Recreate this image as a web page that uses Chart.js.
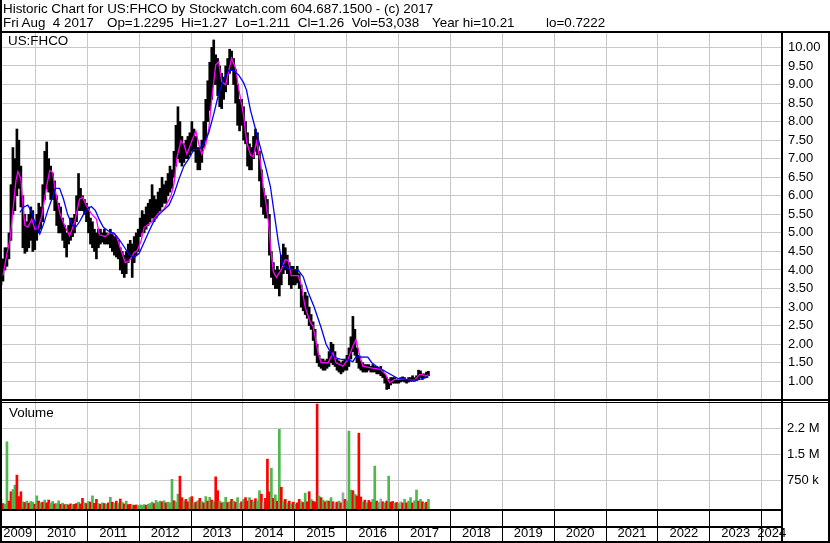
<!DOCTYPE html>
<html><head><meta charset="utf-8">
<script src="https://cdn.jsdelivr.net/npm/chart.js@4.4.1/dist/chart.umd.min.js"></script>
<style>
html,body{margin:0;padding:0;background:#fff;}
#wrap{position:relative;width:830px;height:543px;overflow:hidden;font-family:"Liberation Sans",Arial,sans-serif;font-size:13.4px;color:#000;}
canvas{position:absolute;left:0;top:0;}
.t{position:absolute;white-space:pre;line-height:15px;}
</style></head><body>
<div id="wrap">
<canvas id="c" width="830" height="543"></canvas>
<div class="t" style="left:3px;top:1px">Historic Chart for US:FHCO by Stockwatch.com 604.687.1500 - (c) 2017</div>
<div class="t" style="left:3px;top:15px">Fri Aug  4 2017</div>
<div class="t" style="left:107px;top:15px">Op=1.2295  Hi=1.27  Lo=1.211  Cl=1.26  Vol=53,038</div>
<div class="t" style="left:432px;top:15px">Year hi=10.21</div>
<div class="t" style="left:546px;top:15px">lo=0.7222</div>
<div class="t" style="left:8px;top:33px">US:FHCO</div>
<div class="t" style="left:9px;top:405px">Volume</div>
</div>
<script>
// ---- data ----
const startYear = 2009.316;           // first week shown (late April 2009)
const yearLabels = ['2009','2010','2011','2012','2013','2014','2015','2016','2017','2018','2019','2020','2021','2022','2023','2024'];
const priceTicks = [1.0,1.5,2.0,2.5,3.0,3.5,4.0,4.5,5.0,5.5,6.0,6.5,7.0,7.5,8.0,8.5,9.0,9.5,10.0];
const volTicks = [750,1500,2250];              // thousands of shares
const volTickLabels = ['750 k','1.5 M','2.2 M'];

// two-week bars: high / low
const barHigh = [
4.0,4.3,4.6,4.6,5.0,6.3,7.3,7.0,7.8,7.5,
6.8,6.0,5.5,5.3,5.5,5.7,5.6,5.3,5.5,5.8,
5.7,6.3,7.2,7.45,7.0,6.8,6.6,6.4,6.0,5.8,
5.7,5.4,5.2,5.0,5.2,5.4,5.4,5.5,6.0,6.6,
6.2,6.0,5.9,5.8,5.7,5.4,5.3,5.1,5.0,5.1,
5.1,5.0,5.1,5.0,4.95,5.1,5.0,4.9,4.9,4.8,
4.6,4.5,4.4,4.5,4.7,4.8,4.7,4.9,5.0,5.1,
5.4,5.6,5.5,5.7,5.8,5.9,6.3,6.0,5.9,6.1,
6.2,6.5,6.3,6.4,6.6,6.8,6.7,7.2,7.9,8.4,
8.0,7.6,7.4,7.5,7.6,7.7,8.0,7.8,7.6,7.3,
7.3,7.5,8.0,8.6,9.1,9.6,10.0,10.2,9.8,9.7,
9.5,9.3,9.2,9.5,9.7,9.95,9.9,9.7,9.4,9.0,
8.6,8.6,8.4,8.0,7.7,7.4,7.3,7.6,7.8,7.7,
7.2,6.7,6.2,6.0,5.9,5.5,4.5,4.2,4.0,4.1,
4.0,4.4,4.7,4.6,4.4,4.2,4.1,4.1,4.0,4.1,
3.9,3.6,3.3,3.4,3.3,3.0,2.8,2.6,2.4,2.0,
1.7,1.6,1.6,1.55,1.6,1.8,2.05,2.0,1.8,1.6,
1.55,1.5,1.55,1.6,1.7,1.9,2.2,2.75,2.4,1.9,
1.7,1.55,1.5,1.45,1.45,1.45,1.4,1.45,1.4,1.4,
1.35,1.4,1.3,1.2,1.1,1.05,1.1,1.1,1.1,1.05,
1.05,1.1,1.12,1.1,1.05,1.1,1.1,1.15,1.1,1.15,
1.3,1.28,1.2,1.2,1.25,1.27];
const barLow = [
3.6,3.7,4.0,4.1,4.3,4.8,5.5,5.6,6.0,6.2,
5.7,4.6,4.45,4.5,4.6,4.8,4.5,4.55,4.8,5.0,
5.1,5.3,5.9,6.2,6.1,5.9,5.9,5.6,5.2,5.0,
5.0,4.8,4.6,4.35,4.7,4.8,4.9,5.0,5.3,5.6,
5.6,5.6,5.5,5.3,5.0,4.7,4.6,4.5,4.3,4.6,
4.7,4.75,4.7,4.7,4.7,4.6,4.5,4.4,4.35,4.3,
4.0,3.9,3.8,3.9,4.2,4.3,3.8,4.2,4.4,4.5,
4.9,5.0,5.0,5.1,5.2,5.3,5.4,5.3,5.4,5.5,
5.6,5.7,5.8,5.8,6.0,6.1,6.2,6.5,6.8,7.0,
6.9,6.8,6.9,7.0,7.0,7.1,7.2,7.2,6.9,6.7,
6.7,6.9,7.3,7.5,8.0,8.3,8.6,9.0,9.0,8.7,
8.4,8.35,8.6,8.8,9.0,9.3,9.4,9.0,8.5,7.9,
7.75,7.9,7.5,7.4,6.8,6.7,6.7,7.0,7.2,7.1,
6.4,5.7,5.5,5.4,5.4,4.4,3.8,3.6,3.5,3.5,
3.3,3.6,3.9,4.0,3.9,3.6,3.5,3.6,3.6,3.65,
3.5,3.0,2.9,2.8,2.7,2.5,2.4,2.1,1.7,1.5,
1.4,1.35,1.3,1.3,1.35,1.4,1.5,1.45,1.4,1.3,
1.25,1.2,1.25,1.3,1.3,1.4,1.6,1.8,1.7,1.5,
1.35,1.3,1.25,1.25,1.25,1.3,1.25,1.25,1.25,1.2,
1.2,1.15,1.1,0.95,0.78,0.8,0.9,0.95,0.95,0.95,
0.95,0.98,1.0,0.98,0.95,0.98,1.0,1.0,1.0,1.02,
1.05,1.1,1.05,1.1,1.1,1.15];

// volume per two-week bar (thousands) and direction (G up, R down, N unchanged)
const volume = [
200,80,60,1860,150,420,480,610,900,280,
420,130,110,150,90,140,120,60,300,150,
100,120,180,100,180,90,140,70,80,160,
60,90,50,60,40,70,50,60,80,120,
70,230,100,80,140,120,300,90,200,80,
60,100,80,60,100,260,120,90,150,80,
210,120,70,150,50,60,40,30,40,20,
40,30,50,30,60,80,120,80,170,110,
150,130,160,100,120,100,780,160,120,350,
870,250,150,200,130,250,280,100,120,160,
230,140,100,280,150,260,180,130,850,450,
150,100,120,260,110,130,200,150,120,250,
90,130,200,250,150,250,180,130,220,160,
450,350,120,230,1360,420,1100,230,330,150,
2220,550,160,200,100,150,80,120,60,100,
200,140,110,380,130,420,200,150,120,2950,
300,250,180,130,160,150,250,130,100,120,
150,100,390,200,150,2170,470,450,350,300,
2110,270,130,180,100,170,120,200,1160,150,
110,210,130,100,150,870,120,140,90,110,
80,130,100,200,100,150,250,100,160,470,
150,200,130,90,120,200];
const volDir = "GRGGRRGGRR"+"RGRGRGGRGR"+"GRGRRGGRGG"+"RGRGRRGRRG"+"RRGRGRGRRG"+
"RGRGRGRGRG"+"RGRGRRGRRG"+"GGGRGGGRGG"+"GRGRGGGRGG"+"RRGRRGRGRG"+
"RGRGRGRGRR"+"GRGGRGRGRG"+"NRGRRGRGRG"+"GRNRRRGRGR"+"GRGRGRGRGR"+
"RGRGRRGRRR"+"GRGRGRGRNR"+"GRNRGGGRGR"+"RRGRGRRGGR"+"GNRGRGRRGR"+
"GNRGRGGRGG"+"RGRGRG";

// moving averages: [week number, price]
const maFast = [[3,3.85],[7,4.45],[10,4.8],[13,5.6],[16,6.4],[18,6.65],[21,6.45],[23,5.75],[25,5.2],[28,5.15],
[32,5.37],[35,5.1],[38,5.1],[42,5.46],[47,6.27],[50,6.68],[53,6.63],[55,6.23],[60,5.55],[65,5.19],
[70,4.92],[75,5.28],[80,5.91],[83,5.96],[87,5.73],[92,5.51],[97,5.37],[100,4.95],[106,4.9],[110,5.0],
[112,5.0],[117,4.92],[122,4.52],[126,4.2],[130,4.25],[135,4.47],[138,4.52],[142,4.79],[145,5.15],[152,5.28],
[160,5.55],[165,5.64],[172,6.0],[175,6.32],[178,7.03],[182,7.48],[185,7.39],[188,7.12],[193,7.48],[197,7.75],
[200,7.39],[203,7.12],[207,7.39],[210,7.8],[213,8.6],[217,9.53],[220,9.61],[223,9.08],[227,8.99],[230,9.35],
[233,9.71],[237,9.44],[240,8.9],[245,8.18],[248,7.46],[252,7.1],[255,7.05],[258,7.46],[262,6.92],[265,6.2],
[267,5.9],[270,5.3],[273,4.4],[275,3.95],[278,3.8],[283,4.01],[287,4.28],[290,4.25],[293,3.85],[300,3.85],
[303,3.6],[307,3.0],[312,2.6],[315,2.48],[320,1.77],[323,1.5],[330,1.5],[335,1.77],[338,1.5],[345,1.41],
[350,1.59],[355,1.95],[358,2.12],[362,1.68],[365,1.41],[373,1.36],[383,1.32],[388,1.18],[392,0.96],[397,1.05],
[407,1.06],[417,1.03],[422,1.18],[425,1.18],[428,1.14],[431,1.18]];
const maSlow = [[20,5.55],[24,5.7],[28,5.75],[32,5.55],[36,5.2],[40,4.97],[44,5.25],[48,5.6],[52,5.9],[56,6.2],
[60,6.2],[64,5.9],[68,5.5],[72,5.25],[76,5.15],[80,5.3],[84,5.5],[88,5.65],[92,5.71],[96,5.6],
[100,5.35],[104,5.15],[110,5.03],[115,4.99],[120,4.82],[125,4.62],[130,4.41],[135,4.34],[140,4.45],[145,4.75],
[150,5.05],[155,5.33],[160,5.5],[165,5.62],[170,5.75],[175,6.05],[180,6.45],[185,6.8],[190,7.0],[195,7.25],
[200,7.25],[205,7.4],[210,7.7],[215,8.2],[220,8.75],[225,9.15],[230,9.38],[235,9.38],[240,9.26],[245,9.05],
[248,8.85],[252,8.3],[257,7.8],[262,7.3],[267,6.8],[272,6.25],[276,5.5],[280,4.75],[284,4.15],[290,4.03],
[300,4.0],[305,3.82],[310,3.4],[316,3.0],[323,2.45],[328,2.0],[335,1.66],[342,1.6],[350,1.58],[355,1.53],
[358,1.66],[370,1.65],[374,1.5],[378,1.42],[382,1.35],[390,1.23],[400,1.08],[410,1.04],[420,1.04],[426,1.08],[431,1.12]];

// ---- chart ----
const FONT = '"Liberation Sans", Arial, sans-serif';
const weekToYear = w => startYear + w * 7 / 365.25;
const xMin = startYear, xMax = 2024.392;
const pMin = 0.469, pMax = 10.388;
const vMin = -78, vMax = 3037;
const colorOf = {G:'#4db84d', R:'#ff0000', N:'#a8a8a8'};

const xTicks = [];
yearLabels.forEach(lbl => {
  const yr = +lbl;
  const a = Math.max(yr, xMin), b = Math.min(yr + 1, xMax);
  xTicks.push({value:(a + b) / 2, label:lbl, line:false});
  if (yr > xMin && yr < xMax) xTicks.push({value:yr, label:'', line:true});
});
xTicks.sort((p, q) => p.value - q.value);

const framePlugin = {
  id:'frame',
  afterDraw(chart) {
    const ctx = chart.ctx, W = chart.width, H = chart.height, ca = chart.chartArea;
    const yp = chart.scales.y;
    ctx.save();
    ctx.fillStyle = '#000';
    ctx.fillRect(0, 0, 2, H);
    ctx.fillRect(W - 2, 31, 2, H - 31);
    ctx.fillRect(0, H - 2, W, 2);
    ctx.fillRect(0, 31, W, 2);
    ctx.fillRect(ca.right - 1, 31, 2, H - 31);
    const sep = Math.round(yp.bottom);
    ctx.fillRect(0, sep - 2, W, 2);
    ctx.fillRect(0, sep + 1, W, 1);
    ctx.fillRect(0, Math.round(ca.bottom), ca.right, 2);
    ctx.fillRect(0, Math.round(ca.bottom) + 17, ca.right, 2);
    ctx.restore();
  }
};

new Chart(document.getElementById('c'), {
  type:'bar',
  data:{datasets:[
    {type:'line', label:'slow', data:maSlow.map(p => ({x:weekToYear(p[0]), y:p[1]})), yAxisID:'y', xAxisID:'x',
     borderColor:'#0000ff', borderWidth:1.3, pointRadius:0, tension:0, order:1},
    {type:'line', label:'fast', data:maFast.map(p => ({x:weekToYear(p[0]), y:p[1]})), yAxisID:'y', xAxisID:'x',
     borderColor:'#ff00ff', borderWidth:1.3, pointRadius:0, tension:0, order:2},
    {type:'bar', label:'price', data:barHigh.map((h, i) => ({x:weekToYear(2 * i + 1), y:[barLow[i], h]})),
     yAxisID:'y', xAxisID:'x', backgroundColor:'#000', borderWidth:0, barThickness:2, grouped:false, order:3},
    {type:'bar', label:'volume', data:volume.map((v, i) => ({x:weekToYear(2 * i + 1), y:[vMin, v]})),
     yAxisID:'yv', xAxisID:'x', backgroundColor:volume.map((v, i) => colorOf[volDir[i]]), borderWidth:0,
     barThickness:2, grouped:false, order:4}
  ]},
  options:{
    responsive:false, animation:false, devicePixelRatio:1, events:[],
    layout:{padding:{top:33, left:0, right:0, bottom:0}, autoPadding:false},
    plugins:{legend:{display:false}, tooltip:{enabled:false}},
    scales:{
      x:{type:'linear', position:'bottom', min:xMin, max:xMax, offset:false,
        afterBuildTicks: ax => { ax.ticks = xTicks.map(t => ({value:t.value})); },
        afterFit: ax => { ax.height = 34; ax.paddingLeft = 0; ax.paddingRight = 0; },
        border:{display:false},
        grid:{offset:false, color: c => (xTicks[c.index] && xTicks[c.index].line) ? '#c8c8c8' : 'rgba(0,0,0,0)',
              tickColor: c => (xTicks[c.index] && xTicks[c.index].line) ? '#000' : 'rgba(0,0,0,0)',
              tickLength:34, lineWidth:1, tickWidth:1},
        ticks:{autoSkip:false, maxRotation:0, minRotation:0, padding:-17, color:'#000',
               font:{family:FONT, size:13}, callback:(v, i) => xTicks[i] ? xTicks[i].label : ''}},
      y:{type:'linear', position:'right', stack:'panels', stackWeight:368, min:pMin, max:pMax,
        afterBuildTicks: ax => { ax.ticks = priceTicks.map(v => ({value:v})); },
        afterFit: ax => { ax.width = 48; },
        border:{display:false},
        grid:{color:'#c8c8c8', drawTicks:false, lineWidth:1},
        ticks:{autoSkip:false, padding:6, color:'#000', font:{family:FONT, size:13}, callback: v => v.toFixed(2)}},
      yv:{type:'linear', position:'right', stack:'panels', stackWeight:108, min:vMin, max:vMax,
        afterBuildTicks: ax => { ax.ticks = volTicks.map(v => ({value:v})); },
        afterFit: ax => { ax.width = 48; },
        border:{display:false},
        grid:{color:'#c8c8c8', drawTicks:false, lineWidth:1},
        ticks:{autoSkip:false, padding:5, color:'#000', font:{family:FONT, size:13},
               callback: v => volTickLabels[volTicks.indexOf(v)]}}
    }
  },
  plugins:[framePlugin]
});
</script>
</body></html>
